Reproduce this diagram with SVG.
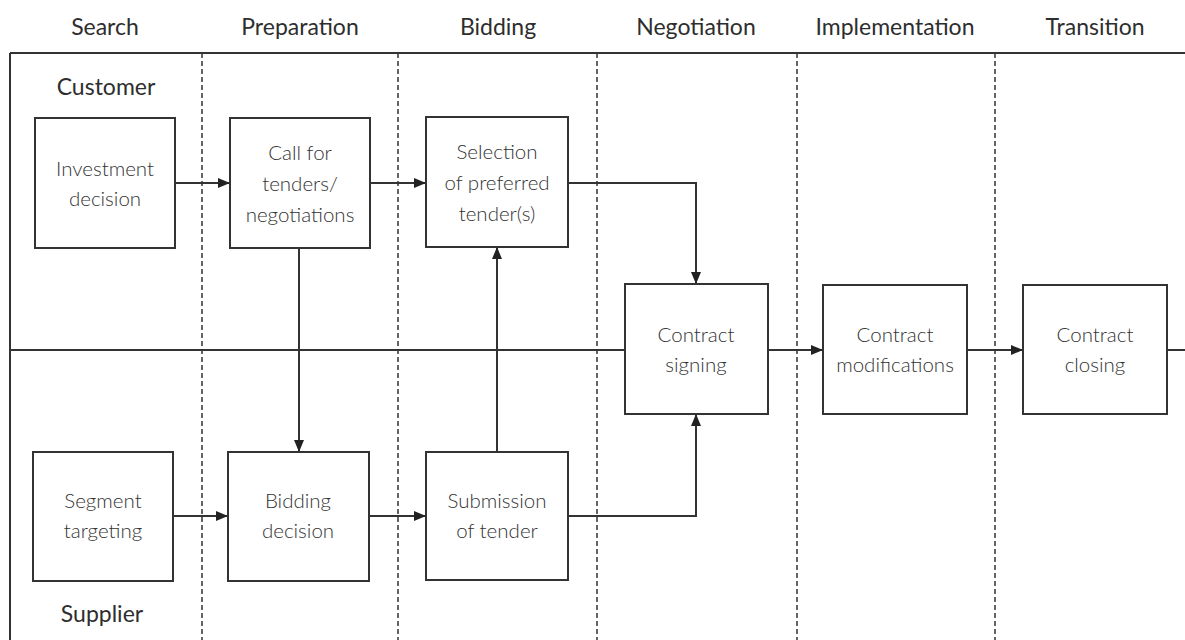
<svg xmlns="http://www.w3.org/2000/svg" width="1185" height="640" viewBox="0 0 1185 640">
<style>
.bg{fill:#fff}
.frame{stroke:#333;stroke-width:2;fill:none}
.dash{stroke:#333;stroke-width:1.5;stroke-dasharray:5 3;fill:none}
.box{fill:#fff;stroke:#333;stroke-width:2}
.conn{stroke:#333;stroke-width:2;fill:none}
.head{font-family:Lato,"Liberation Sans",sans-serif;font-size:23px;fill:#2e2e2e;text-anchor:middle}
.lbl{font-family:Lato,"Liberation Sans",sans-serif;font-size:20.5px;font-weight:300;fill:#333;text-anchor:middle}
</style>
<defs>
<marker id="ah" viewBox="0 0 12 10" refX="12" refY="5" markerWidth="12" markerHeight="10" markerUnits="userSpaceOnUse" orient="auto">
<path d="M0,0 L12,5 L0,10 z" fill="#222"/>
</marker>
</defs>
<rect class="bg" width="1185" height="640"/>
<g id="frame">
<line class="frame" x1="10" y1="53" x2="1185" y2="53"/>
<line class="frame" x1="10" y1="53" x2="10" y2="640"/>
<line class="dash" x1="202" y1="53" x2="202" y2="640"/>
<line class="dash" x1="398" y1="53" x2="398" y2="640"/>
<line class="dash" x1="597" y1="53" x2="597" y2="640"/>
<line class="dash" x1="797" y1="53" x2="797" y2="640"/>
<line class="dash" x1="995" y1="53" x2="995" y2="640"/>
<line class="frame" x1="10" y1="350" x2="625" y2="350"/>
</g>
<g id="headings">
<text class="head" x="105" y="35">Search</text>
<text class="head" x="300" y="35">Preparation</text>
<text class="head" x="498" y="35">Bidding</text>
<text class="head" x="696" y="35">Negotiation</text>
<text class="head" x="895" y="35">Implementation</text>
<text class="head" x="1095" y="35">Transition</text>
<text class="head" x="106" y="95">Customer</text>
<text class="head" x="102" y="622">Supplier</text>
</g>
<g id="connectors">
<line class="conn" x1="175" y1="183" x2="230" y2="183" marker-end="url(#ah)"/>
<line class="conn" x1="370" y1="183" x2="426" y2="183" marker-end="url(#ah)"/>
<polyline class="conn" points="568,183 696,183 696,284" marker-end="url(#ah)"/>
<line class="conn" x1="299" y1="248" x2="299" y2="452" marker-end="url(#ah)"/>
<line class="conn" x1="173" y1="516" x2="228" y2="516" marker-end="url(#ah)"/>
<line class="conn" x1="369" y1="516" x2="426" y2="516" marker-end="url(#ah)"/>
<line class="conn" x1="497" y1="452" x2="497" y2="247" marker-end="url(#ah)"/>
<polyline class="conn" points="568,516 696,516 696,414" marker-end="url(#ah)"/>
<line class="conn" x1="768" y1="350" x2="823" y2="350" marker-end="url(#ah)"/>
<line class="conn" x1="967" y1="350" x2="1023" y2="350" marker-end="url(#ah)"/>
<line class="conn" x1="1167" y1="350" x2="1185" y2="350"/>
</g>
<g id="investment">
<rect class="box" x="35" y="118" width="140" height="130"/>
<text class="lbl" x="105" y="176">Investment</text>
<text class="lbl" x="105" y="206">decision</text>
</g>
<g id="call">
<rect class="box" x="230" y="118" width="140" height="130"/>
<text class="lbl" x="300" y="160">Call for</text>
<text class="lbl" x="300" y="191">tenders/</text>
<text class="lbl" x="300" y="222">negotiations</text>
</g>
<g id="selection">
<rect class="box" x="426" y="117" width="142" height="130"/>
<text class="lbl" x="497" y="159">Selection</text>
<text class="lbl" x="497" y="190">of preferred</text>
<text class="lbl" x="497" y="221">tender(s)</text>
</g>
<g id="signing">
<rect class="box" x="625" y="284" width="143" height="130"/>
<text class="lbl" x="696" y="342">Contract</text>
<text class="lbl" x="696" y="372">signing</text>
</g>
<g id="modifications">
<rect class="box" x="823" y="285" width="144" height="129"/>
<text class="lbl" x="895" y="342">Contract</text>
<text class="lbl" x="895" y="372">modifications</text>
</g>
<g id="closing">
<rect class="box" x="1023" y="285" width="144" height="129"/>
<text class="lbl" x="1095" y="342">Contract</text>
<text class="lbl" x="1095" y="372">closing</text>
</g>
<g id="segment">
<rect class="box" x="33" y="452" width="140" height="129"/>
<text class="lbl" x="103" y="508">Segment</text>
<text class="lbl" x="103" y="538">targeting</text>
</g>
<g id="bidding">
<rect class="box" x="228" y="452" width="141" height="129"/>
<text class="lbl" x="298" y="508">Bidding</text>
<text class="lbl" x="298" y="538">decision</text>
</g>
<g id="submission">
<rect class="box" x="426" y="452" width="142" height="128"/>
<text class="lbl" x="497" y="508">Submission</text>
<text class="lbl" x="497" y="538">of tender</text>
</g>
</svg>
